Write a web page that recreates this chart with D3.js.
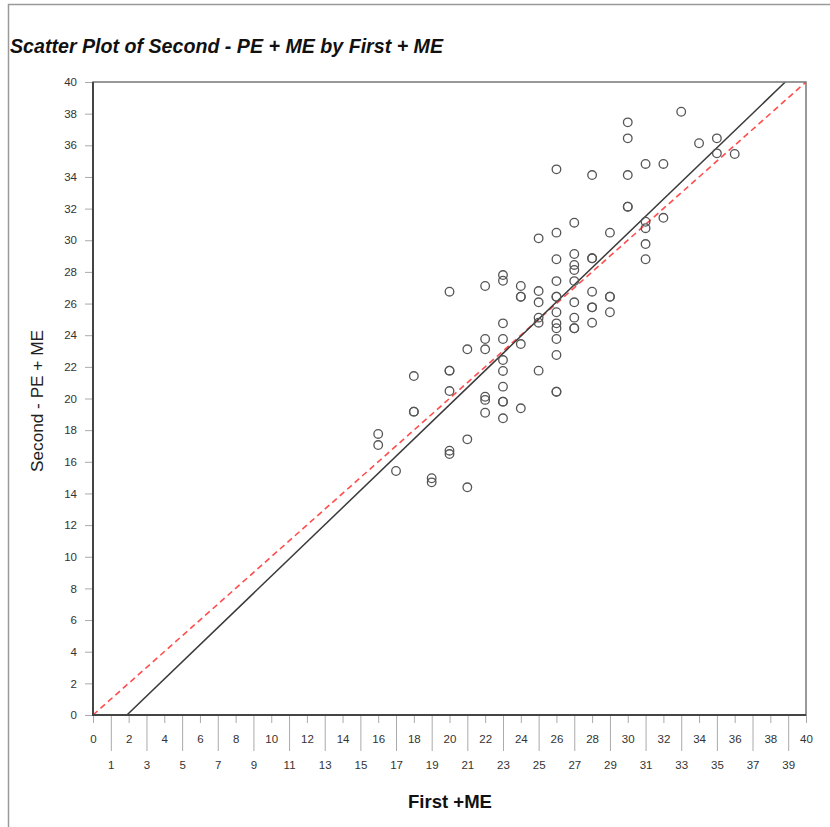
<!DOCTYPE html>
<html>
<head>
<meta charset="utf-8">
<script src="https://cdn.jsdelivr.net/npm/d3@7"></script>
<style>
  html, body { margin: 0; padding: 0; background: #fff; }
  svg { display: block; font-family: "Liberation Sans", Arial, sans-serif; }
</style>
</head>
<body>
<svg id="chart" width="830" height="827"></svg>
<script>
// Observations: First + ME score (x) and Second - PE + ME score (y)
const firstME = [
  16, 16,
  17,
  18, 18, 18,
  19, 19,
  20, 20, 20, 20, 20, 20,
  21, 21, 21,
  22, 22, 22, 22, 22, 22,
  23, 23, 23, 23, 23, 23, 23, 23, 23, 23,
  24, 24, 24, 24, 24,
  25, 25, 25, 25, 25, 25,
  26, 26, 26, 26, 26, 26, 26, 26, 26, 26, 26, 26, 26,
  27, 27, 27, 27, 27, 27, 27, 27, 27,
  28, 28, 28, 28, 28, 28, 28,
  29, 29, 29, 29,
  30, 30, 30, 30, 30,
  31, 31, 31, 31, 31,
  32, 32,
  33,
  34,
  35, 35,
  36
];
const secondPEME = [
  17.76, 17.06,
  15.42,
  21.42, 19.17, 19.17,
  14.96, 14.70,
  26.75, 21.76, 21.76, 20.47, 16.70, 16.49,
  23.11, 17.42, 14.39,
  27.11, 23.76, 23.11, 20.11, 19.91, 19.10,
  27.80, 27.44, 24.75, 23.76, 22.43, 21.74, 20.75, 19.80, 19.80, 18.75,
  27.11, 26.43, 26.43, 23.44, 19.38,
  30.12, 26.79, 26.08, 25.11, 24.79, 21.76,
  34.48, 30.48, 28.80, 27.42, 26.43, 26.43, 25.45, 24.75, 24.44, 23.76, 22.75, 20.43, 20.43,
  31.11, 29.13, 28.44, 28.12, 27.42, 26.08, 25.11, 24.44, 24.44,
  34.12, 28.86, 28.86, 26.75, 25.76, 25.76, 24.79,
  30.48, 26.43, 26.43, 25.45,
  37.45, 36.44, 34.12, 32.12, 32.12,
  34.82, 31.17, 30.76, 29.76, 28.80,
  34.82, 31.42,
  38.12,
  36.13,
  36.44, 35.49,
  35.45
];

// Fitted regression line (intercept, slope) and the identity reference line
const fitLine = [-2.06, 1.083];
const identityLine = [0, 1];

// Axis ticks
const yTicks = d3.range(0, 41, 2);
const xTicksEven = d3.range(0, 41, 2);
const xTicksOdd = d3.range(1, 40, 2);

const titleText = "Scatter Plot of Second - PE + ME by First + ME";
const xTitle = "First +ME";
const yTitle = "Second - PE + ME";

const svg = d3.select("#chart");

// Outer frame of the graphic
svg.append("path")
  .attr("d", "M8.5,830 V4.5 H840")
  .attr("fill", "none")
  .attr("stroke", "#9a9a9a")
  .attr("stroke-width", 1.5);

const plot = { left: 93, right: 806, top: 82, bottom: 715 };

const x = d3.scaleLinear().domain([0, 40]).range([plot.left, plot.right]);
const y = d3.scaleLinear().domain([0, 40]).range([plot.bottom, plot.top]);

// Title
svg.append("text")
  .attr("x", 10)
  .attr("y", 53)
  .attr("font-size", 20)
  .attr("font-weight", "bold")
  .attr("font-style", "italic")
  .attr("fill", "#111")
  .attr("textLength", 433)
  .attr("lengthAdjust", "spacingAndGlyphs")
  .text(titleText);

// Y axis
const yAxis = svg.append("g")
  .attr("transform", `translate(${plot.left},0)`)
  .call(d3.axisLeft(y).tickValues(yTicks).tickSize(8).tickPadding(8));
yAxis.select(".domain").remove();
yAxis.selectAll(".tick line").attr("stroke", "#aaa");
yAxis.selectAll(".tick text")
  .attr("font-size", 11.5)
  .attr("fill", "#333")
  .attr("font-family", "Liberation Sans, Arial, sans-serif");

// X axis: even values on the first row with short ticks,
// odd values on the second row with long ticks
const xAxisEven = svg.append("g")
  .attr("transform", `translate(0,${plot.bottom})`)
  .call(d3.axisBottom(x).tickValues(xTicksEven).tickSize(8).tickPadding(12));
xAxisEven.select(".domain").remove();

const xAxisOdd = svg.append("g")
  .attr("transform", `translate(0,${plot.bottom})`)
  .call(d3.axisBottom(x).tickValues(xTicksOdd).tickSize(36).tickPadding(10));
xAxisOdd.select(".domain").remove();

[xAxisEven, xAxisOdd].forEach(g => {
  g.selectAll(".tick line").attr("stroke", "#aaa");
  g.selectAll(".tick text")
    .attr("font-size", 11.5)
    .attr("fill", "#333")
    .attr("font-family", "Liberation Sans, Arial, sans-serif");
});

// Axis titles
svg.append("text")
  .attr("x", 450)
  .attr("y", 808)
  .attr("text-anchor", "middle")
  .attr("font-size", 18)
  .attr("font-weight", "bold")
  .attr("fill", "#111")
  .attr("textLength", 84)
  .attr("lengthAdjust", "spacingAndGlyphs")
  .text(xTitle);

svg.append("text")
  .attr("transform", `translate(43,401) rotate(-90)`)
  .attr("text-anchor", "middle")
  .attr("font-size", 17)
  .attr("fill", "#222")
  .attr("textLength", 142)
  .attr("lengthAdjust", "spacingAndGlyphs")
  .text(yTitle);

// Clip region for the reference lines
svg.append("clipPath").attr("id", "plot-clip")
  .append("rect")
  .attr("x", plot.left).attr("y", plot.top)
  .attr("width", plot.right - plot.left).attr("height", plot.bottom - plot.top);

const lineGen = d3.line().x(d => x(d[0])).y(d => y(d[1]));
const lineFrom = ([a, b]) => {
  // endpoints where the line meets the 0..40 box
  const x0 = Math.max(0, (0 - a) / b);
  const x1 = Math.min(40, (40 - a) / b);
  return [[x0, a + b * x0], [x1, a + b * x1]];
};

const lines = svg.append("g").attr("clip-path", "url(#plot-clip)");

lines.append("path")
  .attr("d", lineGen(lineFrom(identityLine)))
  .attr("fill", "none")
  .attr("stroke", "#ff4d4d")
  .attr("stroke-width", 1.6)
  .attr("stroke-dasharray", "6,4");

lines.append("path")
  .attr("d", lineGen(lineFrom(fitLine)))
  .attr("fill", "none")
  .attr("stroke", "#3a3a3a")
  .attr("stroke-width", 1.5);

// Points
svg.append("g")
  .selectAll("circle")
  .data(firstME.map((v, i) => [v, secondPEME[i]]))
  .join("circle")
  .attr("cx", d => x(d[0]))
  .attr("cy", d => y(d[1]))
  .attr("r", 4.3)
  .attr("fill", "none")
  .attr("stroke", "#555")
  .attr("stroke-width", 1.3);

// Plot frame
svg.append("rect")
  .attr("x", plot.left).attr("y", plot.top)
  .attr("width", plot.right - plot.left).attr("height", plot.bottom - plot.top)
  .attr("fill", "none")
  .attr("stroke", "#777")
  .attr("stroke-width", 1.5);

svg.append("path")
  .attr("d", `M${plot.left},${plot.top} V${plot.bottom} H${plot.right}`)
  .attr("fill", "none")
  .attr("stroke", "#444")
  .attr("stroke-width", 2);
</script>
</body>
</html>
